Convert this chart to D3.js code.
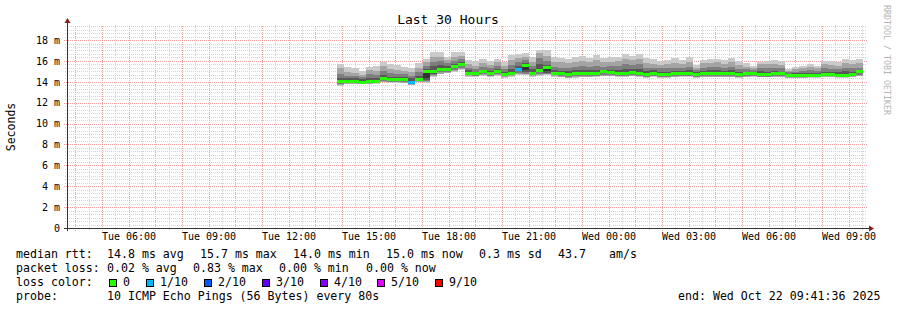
<!DOCTYPE html>
<html>
<head>
<meta charset="utf-8">
<script src="https://cdn.jsdelivr.net/npm/d3@7"></script>
<style>
  body { margin: 0; background: #fff; }
  text { font-family: "DejaVu Sans Mono", monospace; fill: #000; }
</style>
</head>
<body>
<div id="main"></div>
<script>
'use strict'

// time window of the graph
const startTime = new Date(2025, 9, 21, 3, 41, 36);
const endTime = new Date(2025, 9, 22, 9, 41, 36);
const dataStart = new Date(2025, 9, 21, 13, 49, 36);
const stepMinutes = 16;

// sorted ping rtts per step (ms), p1 = fastest ... p10 = slowest
const p10 = [15.70,15.45,15.29,15.03,15.45,15.54,15.93,15.67,15.61,15.42, 15.35,15.77,16.18,16.82,16.82,16.41,16.82,16.88,16.09,15.99,
  16.18,15.99,16.18,15.93,16.57,16.63,16.72,16.41,17.04,17.04, 16.41,16.31,16.18,16.41,16.50,16.25,16.57,16.25,16.41,16.41,
  16.63,16.50,16.63,16.25,16.18,15.99,16.09,16.25,16.09,16.41, 15.61,16.09,16.18,16.18,16.09,16.25,15.99,15.77,15.54,15.93,
  15.99,16.05,15.99,15.22,15.45,15.54,15.67,15.54,15.99,15.99, 15.86,16.18,16.09,16.18];
const p9 = [15.29,14.97,14.81,14.65,15.13,15.03,15.54,15.22,15.13,15.03, 14.97,15.35,15.93,16.41,16.41,16.09,16.41,16.50,15.67,15.54,
  15.77,15.61,15.86,15.54,16.09,16.31,16.41,15.93,16.72,16.50, 15.93,15.86,15.77,15.93,15.99,15.86,16.09,15.86,15.93,15.99,
  16.18,16.09,16.18,15.77,15.74,15.61,15.67,15.77,15.67,15.93, 15.35,15.77,15.77,15.86,15.67,15.86,15.61,15.45,15.35,15.67,
  15.67,15.67,15.61,15.03,15.22,15.29,15.42,15.29,15.67,15.61, 15.54,15.77,15.67,15.77];
const p8 = [14.71,14.59,14.55,14.46,14.71,14.65,15.03,14.84,14.78,14.71, 14.59,14.91,15.54,15.93,15.99,15.77,15.99,16.18,15.35,15.22,
  15.42,15.29,15.48,15.22,15.61,15.86,16.09,15.54,16.25,15.99, 15.45,15.35,15.35,15.45,15.54,15.42,15.54,15.45,15.48,15.54,
  15.67,15.61,15.67,15.35,15.35,15.29,15.29,15.35,15.29,15.45, 15.10,15.35,15.42,15.45,15.35,15.45,15.22,15.22,15.10,15.35,
  15.29,15.29,15.29,14.91,14.97,15.03,15.10,15.03,15.29,15.22, 15.22,15.35,15.29,15.35];
const p7 = [14.39,14.33,14.33,14.27,14.33,14.33,14.65,14.49,14.46,14.43, 14.33,14.59,15.22,15.54,15.61,15.48,15.67,15.93,15.10,14.97,
  15.16,15.03,15.22,14.97,15.22,15.54,15.77,15.22,15.67,15.61, 15.10,15.03,15.03,15.10,15.13,15.10,15.16,15.16,15.16,15.16,
  15.22,15.22,15.22,15.03,15.10,14.97,14.97,15.03,15.03,15.10, 14.91,15.03,15.10,15.10,15.03,15.10,14.97,14.97,14.91,15.03,
  14.97,15.03,14.97,14.78,14.81,14.84,14.84,14.84,14.97,14.97, 14.97,15.03,14.97,15.16];
const p6 = [14.12,14.11,14.08,14.02,14.08,14.11,14.34,14.24,14.24,14.24, 14.00,14.27,15.03,15.03,15.29,15.29,15.48,15.70,14.88,14.84,
  15.03,14.84,15.06,14.78,14.91,15.26,15.61,14.91,15.13,15.42, 14.88,14.84,14.75,14.81,14.81,14.81,14.84,15.00,14.97,14.88,
  14.84,14.97,14.84,14.75,14.88,14.75,14.75,14.81,14.88,14.88, 14.75,14.81,14.81,14.81,14.81,14.84,14.75,14.81,14.81,14.75,
  14.75,14.84,14.81,14.65,14.65,14.65,14.71,14.68,14.78,14.78, 14.71,14.68,14.78,15.00];
const p5 = [14.02,14.02,13.99,13.93,13.99,14.02,14.24,14.14,14.14,14.14, 13.90,14.17,14.33,14.84,15.16,15.16,15.35,15.58,14.75,14.72,
  14.91,14.72,14.94,14.65,14.78,15.13,15.13,14.78,15.00,15.03, 14.75,14.72,14.62,14.68,14.68,14.68,14.72,14.88,14.84,14.75,
  14.72,14.84,14.72,14.62,14.75,14.62,14.62,14.68,14.75,14.75, 14.62,14.68,14.68,14.68,14.68,14.72,14.62,14.68,14.68,14.62,
  14.62,14.72,14.68,14.52,14.52,14.52,14.59,14.55,14.65,14.65, 14.59,14.55,14.65,14.88];
const p4 = [13.95,13.95,13.92,13.87,13.92,13.95,14.17,14.07,14.07,14.07, 13.82,14.10,14.17,14.71,15.10,15.10,15.29,15.51,14.68,14.65,
  14.84,14.65,14.88,14.59,14.71,15.03,14.91,14.71,14.91,14.84, 14.68,14.65,14.55,14.62,14.62,14.62,14.65,14.81,14.78,14.68,
  14.65,14.78,14.65,14.55,14.68,14.55,14.55,14.62,14.68,14.68, 14.55,14.62,14.62,14.62,14.62,14.65,14.55,14.62,14.62,14.55,
  14.55,14.65,14.62,14.46,14.46,14.46,14.52,14.49,14.59,14.59, 14.52,14.49,14.59,14.81];
const p3 = [13.76,13.88,13.86,13.83,13.87,13.90,14.07,14.01,14.01,13.98, 13.79,14.04,14.07,14.62,14.91,14.94,15.16,15.35,14.62,14.59,
  14.72,14.59,14.71,14.52,14.62,14.84,14.78,14.62,14.71,14.78, 14.62,14.55,14.46,14.52,14.55,14.55,14.59,14.65,14.65,14.59,
  14.59,14.65,14.59,14.49,14.59,14.49,14.49,14.52,14.59,14.59, 14.49,14.55,14.55,14.55,14.55,14.55,14.49,14.55,14.55,14.49,
  14.49,14.55,14.55,14.43,14.43,14.43,14.46,14.46,14.52,14.52, 14.46,14.46,14.52,14.65];
const p2 = [13.69,13.82,13.82,13.79,13.82,13.85,14.01,13.95,13.95,13.91, 13.74,13.98,13.95,14.55,14.78,14.88,15.06,15.22,14.55,14.52,
  14.65,14.55,14.65,14.46,14.55,14.71,14.71,14.55,14.62,14.71, 14.55,14.49,14.39,14.46,14.49,14.49,14.52,14.59,14.59,14.52,
  14.52,14.59,14.52,14.43,14.52,14.43,14.43,14.46,14.52,14.52, 14.43,14.49,14.49,14.49,14.49,14.49,14.43,14.49,14.52,14.46,
  14.46,14.49,14.49,14.39,14.39,14.39,14.43,14.43,14.46,14.49, 14.43,14.43,14.49,14.59];
const p1 = [13.63,13.76,13.79,13.76,13.79,13.82,13.95,13.88,13.88,13.85, 13.69,13.95,13.85,14.49,14.71,14.81,14.97,15.13,14.49,14.46,
  14.59,14.49,14.59,14.39,14.49,14.65,14.65,14.49,14.59,14.65, 14.49,14.43,14.33,14.39,14.43,14.43,14.46,14.52,14.52,14.46,
  14.46,14.52,14.46,14.39,14.46,14.39,14.39,14.43,14.46,14.46, 14.39,14.46,14.46,14.46,14.46,14.46,14.39,14.46,14.49,14.43,
  14.43,14.46,14.46,14.33,14.33,14.33,14.39,14.39,14.43,14.46, 14.39,14.39,14.46,14.52];

// median rtt per step (ms)
const median = [14.07,14.07,14.04,13.98,14.04,14.07,14.30,14.20,14.20,14.20, 13.95,14.23,14.97,14.97,15.22,15.22,15.42,15.64,14.81,14.78,
  14.97,14.78,15.00,14.71,14.84,15.19,15.54,14.84,15.06,15.35, 14.81,14.78,14.68,14.75,14.75,14.75,14.78,14.94,14.91,14.81,
  14.78,14.91,14.78,14.68,14.81,14.68,14.68,14.75,14.81,14.81, 14.68,14.75,14.75,14.75,14.75,14.78,14.68,14.75,14.75,14.68,
  14.68,14.78,14.75,14.59,14.59,14.59,14.65,14.62,14.71,14.71, 14.65,14.62,14.71,14.94];

// lost pings (out of 10) per step
const loss = [0,0,0,0,0,0,0,0,0,0, 1,0,0,0,0,0,0,0,0,0, 0,0,0,0,0,1,0,0,0,0, 0,0,0,0,0,0,0,0,0,0,
  0,0,0,0,0,0,0,0,0,0, 0,0,0,0,0,0,0,0,0,0, 0,0,0,0,0,0,0,0,0,0, 0,0,0,0];

const lossLabels = ["0", "1/10", "2/10", "3/10", "4/10", "5/10", "9/10"];
const lossLevels = [0, 1, 2, 3, 4, 5, 9];
const lossColors = ["#26ff00", "#00b8ff", "#0059ff", "#5e00ff", "#7e00ff", "#dd00ff", "#ff0000"];

const yTicks = [0, 2, 4, 6, 8, 10, 12, 14, 16, 18];
const rttStats = ["14.8 ms avg", "15.7 ms max", "14.0 ms min", "15.0 ms now", "0.3 ms sd", "43.7", "am/s"];
const lossStats = ["0.02 % avg", "0.83 % max", "0.00 % min", "0.00 % now"];

document.addEventListener('DOMContentLoaded', drawGraph);

function drawGraph() {
  let svgWidth = 897;
  let svgHeight = 310;
  let left = 67, right = 867, plotTop = 25, bottom = 228;

  let svg = d3.select('#main')
    .append('svg')
    .attr('width', svgWidth)
    .attr('height', svgHeight);

  svg.append('rect').attr('width', svgWidth).attr('height', svgHeight).attr('fill', '#fff');

  let x = d3.scaleTime().domain([startTime, endTime]).range([left, right]);
  let y = d3.scaleLinear().domain([0, 19.44]).range([bottom, plotTop]);

  // grid, drawn with axes whose ticks span the plot
  let minorY = d3.range(1, 59).filter(k => k % 6 !== 0).map(k => k / 3).filter(v => y(v) >= plotTop);
  let majorY = yTicks.filter(v => v > 0);
  let halfHours = d3.timeMinute.every(30).range(startTime, endTime).filter(d => d.getMinutes() === 30);
  let hours = d3.timeHour.range(startTime, endTime);

  function gridLayer(axis, transform, color) {
    let g = svg.append('g')
      .attr('transform', transform)
      .call(axis);
    g.select('.domain').remove();
    g.selectAll('text').remove();
    g.selectAll('line')
      .attr('stroke', color)
      .attr('stroke-dasharray', '1,1')
      .attr('shape-rendering', 'crispEdges');
    return g;
  }

  gridLayer(d3.axisLeft(y).tickValues(minorY).tickSize(-(right - left + 2)).tickSizeOuter(0),
    'translate(' + (left - 2) + ',0)', '#d4d4d4');
  gridLayer(d3.axisBottom(x).tickValues(halfHours).tickSize(-(bottom - plotTop + 2)).tickSizeOuter(0),
    'translate(0,' + (bottom + 2) + ')', '#d4d4d4');
  gridLayer(d3.axisLeft(y).tickValues(majorY).tickSize(-(right - left + 3)).tickSizeOuter(0),
    'translate(' + (left - 3) + ',0)', '#f4a0a0');
  gridLayer(d3.axisBottom(x).tickValues(hours).tickSize(-(bottom - plotTop + 3)).tickSizeOuter(0),
    'translate(0,' + (bottom + 3) + ')', '#f4a0a0');

  // steps
  let steps = median.map((m, i) => ({ t: d3.timeMinute.offset(dataStart, stepMinutes * i), i: i }));
  let areaData = steps.concat([{ t: d3.timeMinute.offset(dataStart, stepMinutes * median.length), i: median.length - 1 }]);

  // smoke
  let bands = [
    [p1, p10, '#cacaca'],
    [p2, p9, '#a4a4a4'],
    [p3, p8, '#7e7e7e'],
    [p4, p7, '#585858'],
    [p5, p6, '#323232']
  ];
  bands.forEach(b => {
    let area = d3.area()
      .curve(d3.curveStepAfter)
      .x(d => x(d.t))
      .y0(d => y(b[0][d.i]))
      .y1(d => y(b[1][d.i]));
    svg.append('path')
      .datum(areaData)
      .attr('d', area)
      .attr('fill', b[2])
      .attr('shape-rendering', 'crispEdges');
  });

  // median coloured by loss
  svg.selectAll('.median')
    .data(steps)
    .enter()
    .append('rect')
    .attr('class', 'median')
    .attr('x', d => x(d.t))
    .attr('width', d => x(d3.timeMinute.offset(d.t, stepMinutes)) - x(d.t))
    .attr('y', d => y(median[d.i]) - 1.5)
    .attr('height', 3)
    .attr('fill', d => lossColors[lossLevels.indexOf(loss[d.i])])
    .attr('shape-rendering', 'crispEdges');

  // axes
  const yAxis = d3.axisLeft(y)
    .tickValues(yTicks)
    .tickSize(0)
    .tickPadding(7)
    .tickFormat(v => v === 0 ? '0' : v + ' m');
  let gy = svg.append('g')
    .attr('transform', 'translate(' + left + ', 0)')
    .call(yAxis);
  gy.select('.domain').remove();
  gy.selectAll('text').attr('font-size', '10px').attr('font-family', '"DejaVu Sans Mono", monospace');

  const xAxis = d3.axisBottom(x)
    .ticks(d3.timeHour.every(3))
    .tickSize(0)
    .tickPadding(5)
    .tickFormat(d3.timeFormat('%a %H:%M'));
  let gx = svg.append('g')
    .attr('transform', 'translate(0, ' + bottom + ')')
    .call(xAxis);
  gx.select('.domain').remove();
  gx.selectAll('text').attr('font-size', '10px').attr('font-family', '"DejaVu Sans Mono", monospace');

  // axis lines with arrows
  svg.append('line').attr('x1', left + 0.5).attr('x2', left + 0.5).attr('y1', bottom + 3).attr('y2', plotTop - 3)
    .attr('stroke', '#333').attr('shape-rendering', 'crispEdges');
  svg.append('line').attr('x1', left - 3).attr('x2', right + 3).attr('y1', bottom + 0.5).attr('y2', bottom + 0.5)
    .attr('stroke', '#333').attr('shape-rendering', 'crispEdges');
  svg.append('path').attr('d', `M${left - 2.5},${plotTop - 2}L${left + 3.5},${plotTop - 2}L${left + 0.5},${plotTop - 7}Z`).attr('fill', '#8b1c1c');
  svg.append('path').attr('d', `M${right + 2},${bottom - 2.5}L${right + 2},${bottom + 3.5}L${right + 7},${bottom + 0.5}Z`).attr('fill', '#8b1c1c');

  // title and labels
  svg.append('text').text('Last 30 Hours')
    .attr('x', 448).attr('y', 24)
    .attr('text-anchor', 'middle')
    .attr('font-size', '13px');
  svg.append('text').text('Seconds')
    .attr('transform', 'translate(15, 127) rotate(-90)')
    .attr('text-anchor', 'middle')
    .attr('font-size', '11.5px');
  svg.append('text').text('RRDTOOL / TOBI OETIKER')
    .attr('transform', 'translate(884, 5) rotate(90)')
    .attr('font-size', '8.3px')
    .style('fill', '#b4b4b4');

  // legend
  let legend = svg.append('g').attr('font-size', '11.6px');
  function addText(str, px, py) {
    legend.append('text').text(str).attr('x', px).attr('y', py).attr('xml:space', 'preserve');
  }
  addText('median rtt:', 16, 258);
  [107, 200, 293, 386, 479, 558, 609].forEach((px, i) => addText(rttStats[i], px, 258));
  addText('packet loss:', 16, 272);
  [107, 193, 279, 366].forEach((px, i) => addText(lossStats[i], px, 272));
  addText('loss color:', 16, 286);
  let boxX = [109, 146, 204, 262, 320, 377, 435];
  lossLabels.forEach((lab, i) => {
    legend.append('rect')
      .attr('x', boxX[i] + 0.5).attr('y', 279.5)
      .attr('width', 7).attr('height', 7)
      .attr('fill', lossColors[i])
      .attr('stroke', '#000').attr('stroke-width', 1)
      .attr('shape-rendering', 'crispEdges');
    addText(lab, boxX[i] + 14, 286);
  });
  addText('probe:', 16, 300);
  addText('10 ICMP Echo Pings (56 Bytes) every 80s', 107, 300);
  addText('end: Wed Oct 22 09:41:36 2025', 678, 300);
}
</script>
</body>
</html>
